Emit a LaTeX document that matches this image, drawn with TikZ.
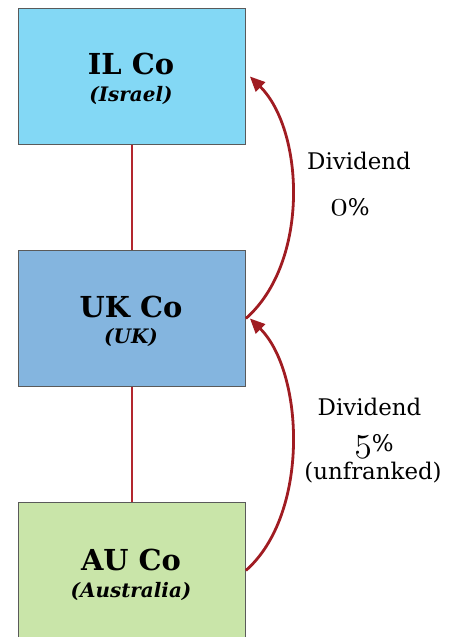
\RequirePackage{fix-cm}
\documentclass[tikz,border=0pt]{standalone}
\usepackage{fontspec}
\setmainfont{DejaVu Serif}
\usetikzlibrary{arrows.meta}
\definecolor{ilfill}{HTML}{83D8F5}
\definecolor{ukfill}{HTML}{84B5DF}
\definecolor{aufill}{HTML}{C9E5A9}
\definecolor{boxline}{HTML}{5A5A5A}
\definecolor{divred}{HTML}{A01C22}
\definecolor{linkred}{HTML}{B3262E}
\newcommand{\osn}[1]{{\fontsize{36}{36}\usefont{OML}{cmm}{m}{it}#1}}
\begin{document}
\begin{tikzpicture}[x=1bp,y=-1bp,
  cobox/.style={draw=boxline, line width=0.9bp, minimum width=227.5bp, minimum height=136bp, inner sep=0pt, anchor=north west},
  linkline/.style={color=linkred, line width=2bp},
  divarrow/.style={color=divred, line width=2.8bp, -{Triangle[length=15bp,width=13bp]}},
  titletext/.style={font=\bfseries\fontsize{29}{32}\selectfont, anchor=base},
  subtext/.style={font=\bfseries\itshape\fontsize{20}{22}\selectfont, anchor=base},
  lbl/.style={font=\fontsize{23}{27}\selectfont, anchor=base}]
\useasboundingbox (0,0) rectangle (450,637);
\node[cobox, fill=ilfill] (il) at (17.5,8) {};
\node[cobox, fill=ukfill] (uk) at (17.5,250) {};
\node[cobox, fill=aufill] (au) at (17.5,502) {};
\node[titletext] (ilt) at (131,75) {IL Co};
\node[subtext] (ils) at (131,102) {(Israel)};
\node[titletext] (ukt) at (131,317) {UK Co};
\node[subtext] (uks) at (131,343) {(UK)};
\node[titletext] (aut) at (131,570) {AU Co};
\node[subtext] (aus) at (131,597) {(Australia)};
\draw[linkline] (il.south) -- (uk.north);
\draw[linkline] (uk.south) -- (au.north);
\draw[divarrow] (uk.east) .. controls (310,262) and (304,130) .. ([xshift=4bp]il.east);
\draw[divarrow] (au.east) .. controls (310,514) and (304,372) .. ([xshift=4bp]uk.east);
\node[lbl] (d1) at (359,170) {Dividend};
\node[lbl] (p1) at (350,215) {\osn{0}\%};
\node[lbl] (d2) at (369.5,415) {Dividend};
\node[lbl] (p2) at (374,451) {\osn{5}\%};
\node[lbl] (uf) at (373,479) {(unfranked)};
\end{tikzpicture}
\end{document}
